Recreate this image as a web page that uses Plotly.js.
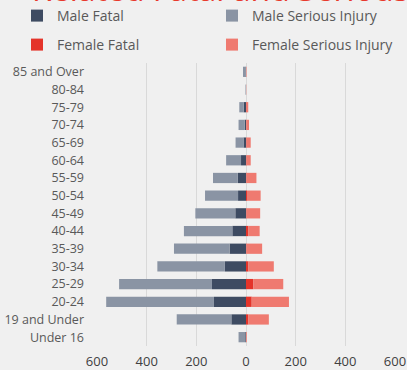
<!DOCTYPE html>
<html>
<head>
<meta charset="utf-8">
<script src="https://cdn.plot.ly/plotly-3.0.1.min.js"></script>
<style>
html,body{margin:0;padding:0;background:#f0f0f0;}
#chart{width:407px;height:370px;}
</style>
</head>
<body>
<div id="chart"></div>
<script>
const ageGroups = ["85 and Over","80-84","75-79","70-74","65-69","60-64","55-59","50-54","45-49","40-44","35-39","30-34","25-29","20-24","19 and Under","Under 16"];
const maleFatal = [2, 0, 9, 5, 10, 20, 33, 32, 43, 55, 66, 85, 137, 129, 59, 3];
const maleSerious = [10, 2, 18, 25, 32, 60, 100, 133, 161, 195, 224, 272, 374, 434, 220, 27];
const femaleFatal = [0, 0, 0, 1, 2, 2, 2, 4, 2, 10, 2, 10, 30, 23, 10, 0];
const femaleSerious = [2, 1, 9, 11, 17, 17, 40, 55, 55, 45, 63, 102, 120, 150, 82, 3];
const xTickVals = [-600, -400, -200, 0, 200, 400, 600];
const xTickText = ["600", "400", "200", "0", "200", "400", "600"];
const titleText = "Related Fatal and Serious";

const font = "'Open Sans', 'Noto Sans', sans-serif";
const traces = [
  {name: "Male Fatal", x: maleFatal.map(v => -v), color: "#3e4b62", legend: "legend"},
  {name: "Male Serious Injury", x: maleSerious.map(v => -v), color: "#8a94a4", legend: "legend2"},
  {name: "Female Fatal", x: femaleFatal, color: "#e4342a", legend: "legend3"},
  {name: "Female Serious Injury", x: femaleSerious, color: "#ef7a70", legend: "legend4"}
].map(t => ({
  type: "bar", orientation: "h", name: t.name, x: t.x, y: ageGroups,
  marker: {color: t.color, line: {width: 0}}, legend: t.legend, hoverinfo: "skip"
}));

const legendCommon = {
  orientation: "v", xref: "container", yref: "container", xanchor: "left", yanchor: "middle",
  bgcolor: "rgba(0,0,0,0)",
  font: {family: font, size: 14, color: "#595959"}, itemwidth: 30
};
const leg = (px, py) => Object.assign({}, legendCommon, {x: px / 407, y: 1 - py / 370});

const layout = {
  width: 407, height: 370,
  paper_bgcolor: "#f0f0f0", plot_bgcolor: "#f0f0f0",
  margin: {l: 97, r: 12, t: 63, b: 24, autoexpand: false},
  barmode: "relative", bargap: 0.42,
  showlegend: true,
  legend: leg(17, 16),
  legend2: leg(212, 16),
  legend3: leg(17, 45),
  legend4: leg(212, 45),
  xaxis: {
    range: [-600, 600], tickvals: xTickVals, ticktext: xTickText,
    showgrid: true, gridcolor: "#d9d9d9", gridwidth: 1, zeroline: false,
    showline: false, ticks: "", ticklabelstandoff: 6,
    tickfont: {family: font, size: 13, color: "#404040"}, fixedrange: true
  },
  yaxis: {
    type: "category", categoryorder: "array", categoryarray: ageGroups,
    autorange: "reversed", showgrid: false, zeroline: false, showline: false,
    ticks: "", ticklabelstandoff: 12,
    tickfont: {family: font, size: 12.5, color: "#595959"}, fixedrange: true
  },
  annotations: [{
    text: titleText, xref: "paper", yref: "paper", x: -67 / 298, y: (346 - 12) / 283,
    xanchor: "left", yanchor: "bottom", showarrow: false,
    font: {family: font, size: 32, color: "#e8392c"}
  }]
};

Plotly.newPlot("chart", traces, layout, {displayModeBar: false, staticPlot: true});
</script>
</body>
</html>
